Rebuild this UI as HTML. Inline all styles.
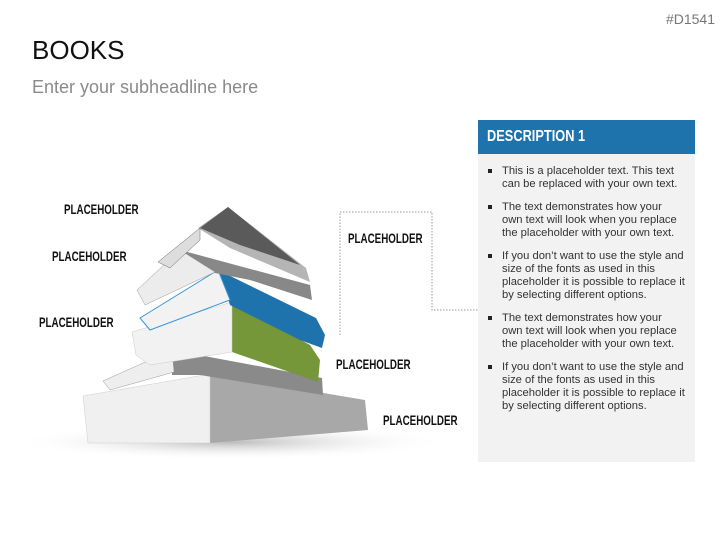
<!DOCTYPE html>
<html><head><meta charset="utf-8"><style>
body{margin:0;width:727px;height:545px;background:#fff;position:relative;overflow:hidden;font-family:"Liberation Sans",sans-serif}
.t{position:absolute;white-space:nowrap}
.ph{position:absolute;font-family:"Liberation Sans Narrow","Liberation Sans",sans-serif;font-weight:bold;font-size:14px;color:#111;transform:scaleX(.7);transform-origin:left;white-space:nowrap}
ul{margin:0;padding:0;list-style:none}
li{position:relative;padding-left:20px;font-size:11.2px;line-height:13px;color:#333;margin-bottom:10px;white-space:nowrap}
li:before{content:"";position:absolute;left:6px;top:4px;width:4px;height:4px;background:#222}
</style></head><body>
<div class="t" style="right:12px;top:11px;font-size:14px;color:#777">#D1541</div>
<div class="t" style="left:32px;top:35px;font-size:26px;color:#111">BOOKS</div>
<div class="t" style="left:32px;top:77px;font-size:18px;color:#8a8a8a">Enter your subheadline here</div>
<svg width="727" height="545" style="position:absolute;left:0;top:0">
<defs><radialGradient id="sh"><stop offset="0" stop-color="#bbb"/><stop offset="1" stop-color="#fff" stop-opacity="0"/></radialGradient></defs>
<ellipse cx="230" cy="442" rx="220" ry="18" fill="url(#sh)"/>
<polyline points="340,335 340,212 432,212 432,310 478,310" fill="none" stroke="#999" stroke-dasharray="1.5,1.5"/>
<polygon points="210,374 365,400 368,430 210,443" fill="#a8a8a8"/>
<polygon points="83,396 210,374 210,443 88,443" fill="#f0f0f0" stroke="#ccc" stroke-width=".5"/>
<polygon points="172,350 322,378 323,395 200,375 172,375" fill="#8a8a8a"/>
<polygon points="103,381 172,350 174,372 110,390" fill="#eee" stroke="#999" stroke-width=".5"/>
<polygon points="232,302 310,345 320,360 318,382 232,352" fill="#76963a"/>
<polygon points="132,332 232,302 232,352 150,365 136,355" fill="#f2f2f2" stroke="#ccc" stroke-width=".5"/>
<polygon points="218,270 316,318 325,335 322,348 300,340 230,305" fill="#1f73ad"/>
<polygon points="140,318 218,270 230,300 150,330" fill="#f2f2f2" stroke="#3a95d5" stroke-width="1"/>
<polygon points="180,250 310,285 312,300 250,280 200,270" fill="#888"/>
<polygon points="137,290 180,250 215,272 145,305" fill="#ececec" stroke="#999" stroke-width=".5"/>
<polygon points="228,207 306,268 310,282 230,248 198,228" fill="#b5b5b5"/>
<polygon points="200,228 228,207 300,265 240,245" fill="#5a5a5a"/>
<polygon points="158,262 200,228 200,240 170,268" fill="#ddd" stroke="#666" stroke-width=".5"/>
</svg>
<div class="ph" style="left:64px;top:201px">PLACEHOLDER</div>
<div class="ph" style="left:52px;top:248px">PLACEHOLDER</div>
<div class="ph" style="left:39px;top:314px">PLACEHOLDER</div>
<div class="ph" style="left:348px;top:230px">PLACEHOLDER</div>
<div class="ph" style="left:336px;top:356px">PLACEHOLDER</div>
<div class="ph" style="left:383px;top:412px">PLACEHOLDER</div>
<div style="position:absolute;left:478px;top:120px;width:217px;height:34px;background:#1f73ad"></div>
<div class="t" style="left:487px;top:128px;font-family:'Liberation Sans Narrow','Liberation Sans',sans-serif;font-weight:bold;font-size:16px;color:#fff;transform:scaleX(.8);transform-origin:left">DESCRIPTION 1</div>
<div style="position:absolute;left:478px;top:154px;width:217px;height:308px;background:#f2f2f2">
<ul style="margin-top:11px;margin-left:4px">
<li>This is a placeholder text. This text<br>can be replaced with your own text.</li>
<li>The text demonstrates how your<br>own text will look when you replace<br>the placeholder with your own text.</li>
<li>If you don’t want to use the style and<br>size of the fonts as used in this<br>placeholder it is possible to replace it<br>by selecting different options.</li>
<li>The text demonstrates how your<br>own text will look when you replace<br>the placeholder with your own text.</li>
<li>If you don’t want to use the style and<br>size of the fonts as used in this<br>placeholder it is possible to replace it<br>by selecting different options.</li>
</ul></div>
</body></html>
